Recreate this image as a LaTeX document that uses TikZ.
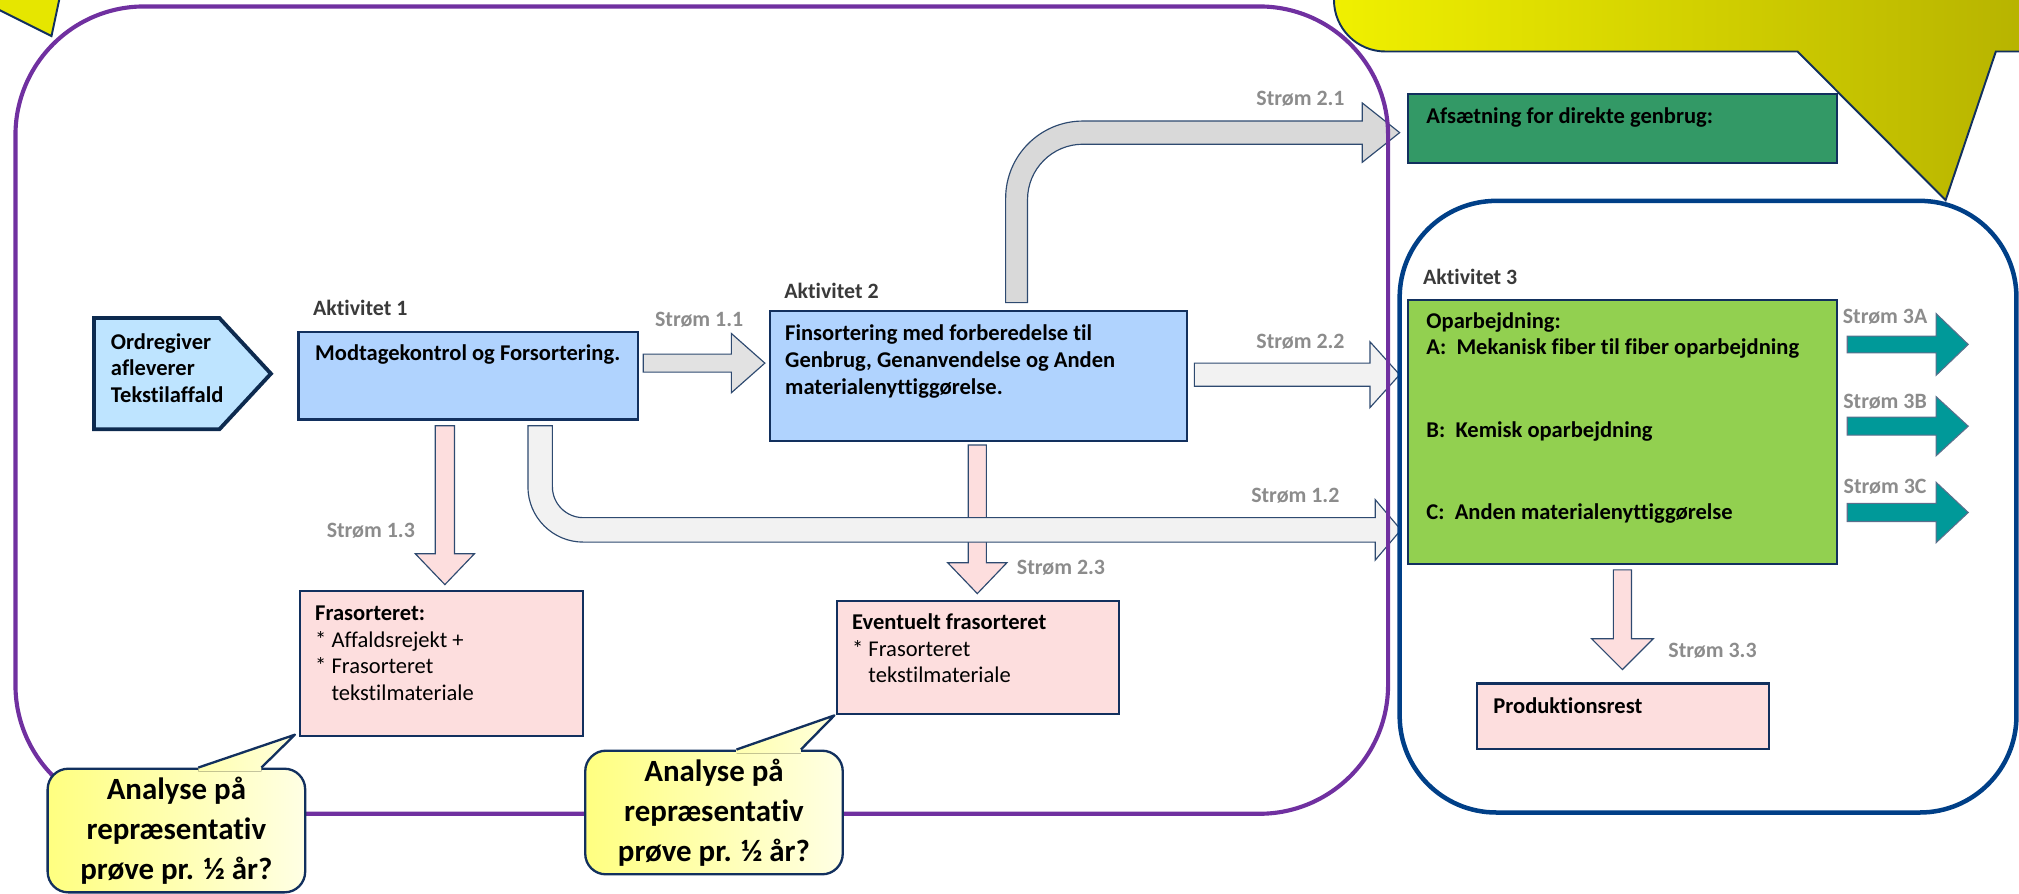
\documentclass[tikz,border=0pt]{standalone}
\usepackage{fontspec}
\setmainfont{Carlito}[Ligatures=NoCommon]
\usetikzlibrary{calc,backgrounds}
\definecolor{purp}{HTML}{7030A0}
\definecolor{navy}{HTML}{12305E}
\definecolor{frameblue}{HTML}{003F87}
\definecolor{boxblue}{HTML}{B0D3FE}
\definecolor{srcblue}{HTML}{BEE4FF}
\definecolor{srcline}{HTML}{0D2A4F}
\definecolor{pinkf}{HTML}{FDDEDE}
\definecolor{greyA}{HTML}{D9D9D9}
\definecolor{greyB}{HTML}{E2E2E2}
\definecolor{greyC}{HTML}{F2F2F2}
\definecolor{tealf}{HTML}{009999}
\definecolor{tealline}{HTML}{5B6F8C}
\definecolor{greenf}{HTML}{92D050}
\definecolor{seaf}{HTML}{339966}
\definecolor{lblgrey}{HTML}{8C8C8C}
\definecolor{actgrey}{HTML}{3A3A3A}
\definecolor{arrline}{HTML}{2E4A70}
\definecolor{cyL}{HTML}{FFFF80}
\definecolor{cyR}{HTML}{FFFFE4}
\definecolor{cyTa}{HTML}{FFFFB0}
\definecolor{cyTb}{HTML}{FFFFDC}
\definecolor{ybright}{HTML}{F0F000}
\definecolor{yolive}{HTML}{B2AE00}
\definecolor{yleft}{HTML}{E6E600}

\newcommand\boxfont{\fontsize{17.5}{20.8}\selectfont\bfseries}
\newcommand\lblfont{\fontsize{17}{20}\selectfont\bfseries}
\newcommand\callfont{\fontsize{24}{31}\selectfont\bfseries}
\newcommand\bx[5]{\parbox[b][#2][t]{#1}{\raggedright\leftskip=#3\relax\rule{0pt}{#4}#5}}
\newcommand\blockH[6]{\draw[#6] let \p1=(#1), \p2=(#2) in
  (\x1,\y2+#3) -- (\x2-#5,\y2+#3) -- (\x2-#5,\y2+#4) -- (\x2,\y2) --
  (\x2-#5,\y2-#4) -- (\x2-#5,\y2-#3) -- (\x1,\y2-#3) -- cycle;}
\newcommand\blockV[6]{\draw[#6] let \p1=(#1), \p2=(#2) in
  (\x2-#3,\y1) -- (\x2-#3,\y2+#5) -- (\x2-#4,\y2+#5) -- (\x2,\y2) --
  (\x2+#4,\y2+#5) -- (\x2+#3,\y2+#5) -- (\x2+#3,\y1) -- cycle;}

\begin{document}
\begin{tikzpicture}[x=1pt,y=-1pt,line join=miter,
  box/.style={draw=navy, line width=1.6pt, inner sep=0pt, anchor=north west, font=\boxfont},
  stream/.style={text=lblgrey, font=\lblfont, inner sep=0pt},
  act/.style={text=actgrey, font=\lblfont, anchor=west, inner sep=0pt},
  garrow/.style={draw=arrline, line width=0.9pt},
  parrow/.style={draw=arrline, line width=0.9pt, fill=pinkf},
  tarrow/.style={draw=tealline, line width=0.8pt, fill=tealf},
  callbox/.style={draw=navy, line width=1.8pt, rounded corners=16pt, left color=cyL, right color=cyR,
    minimum width=200pt, minimum height=96pt, align=center, font=\callfont, inner sep=0pt}]
\useasboundingbox (0,0) rectangle (1568,694);
\clip (0,0) rectangle (1568,694);

% source pentagon
\node[inner sep=0pt, anchor=north west, font=\boxfont] (src) at (73,247)
  {\bx{137pt}{86pt}{13pt}{24pt}{Ordregiver\\afleverer\\Tekstilaffald}};
\begin{scope}[on background layer]
\draw[draw=srcline, fill=srcblue, line width=3pt] (src.north west) -- ($(src.north east)+(-40,0)$)
  -- (src.east) -- ($(src.south east)+(-40,0)$) -- (src.south west) -- cycle;
\end{scope}

% boxes
\node[box, fill=boxblue] (a1) at (231,257) {\bx{264pt}{68pt}{13pt}{22pt}{Modtagekontrol og Forsortering.}};
\node[box, fill=boxblue] (a2) at (597,241) {\bx{324pt}{101pt}{12pt}{23pt}{Finsortering med forberedelse til\\Genbrug, Genanvendelse og Anden\\materialenyttiggørelse.}};
\node[box, fill=pinkf] (fr) at (232,458) {\bx{220pt}{113pt}{12pt}{23pt}{Frasorteret:\\\mdseries {*} Affaldsrejekt +\\{*} Frasorteret\\\hphantom{* }tekstilmateriale}};
\node[box, fill=pinkf] (ev) at (649,466) {\bx{219pt}{88pt}{12pt}{22pt}{Eventuelt frasorteret\\\mdseries {*} Frasorteret\\\hphantom{* }tekstilmateriale}};
\node[box, fill=seaf] (af) at (1093,72) {\bx{333pt}{54pt}{14pt}{23pt}{Afsætning for direkte genbrug:}};
\node[box, fill=greenf] (op) at (1093,232) {\bx{333pt}{205pt}{14pt}{22pt}{Oparbejdning:\\A:\ \ Mekanisk fiber til fiber oparbejdning\\[43pt]B:\ \ Kemisk oparbejdning\\[43pt]C:\ \ Anden materialenyttiggørelse}};
\node[box, fill=pinkf] (pr) at (1146,530) {\bx{227pt}{51pt}{13pt}{23pt}{Produktionsrest}};

% activity labels
\node[act] (l1) at (243,239) {Aktivitet 1};
\node[act] (l2) at (609,226) {Aktivitet 2};
\node[act] (l3) at (1105,215) {Aktivitet 3};

% connector end points
\coordinate (s11s) at ($(a1.east |- 0,282)+(3,0)$);
\coordinate (s11t) at ($(a2.west |- 0,282)+(-3,0)$);
\coordinate (s22s) at ($(a2.east |- 0,291)+(5,0)$);
\coordinate (s22t) at ($(op.west |- 0,291)+(-6,0)$);
\coordinate (s13s) at ($(a1.south west)+(114.5,4)$);
\coordinate (s13t) at ($(s13s |- fr.north)+(0,-4)$);
\coordinate (s23s) at ($(a2.south west)+(162,2)$);
\coordinate (s23t) at ($(s23s |- ev.north)+(0,-5)$);
\coordinate (s33s) at ($(op.south west)+(167,4)$);
\coordinate (s33t) at ($(s33s |- pr.north)+(0,-10)$);
\coordinate (s3as) at ($(op.east |- 0,267.5)+(7,0)$);
\coordinate (s3at) at ($(op.east |- 0,267.5)+(101,0)$);
\coordinate (s3bs) at ($(op.east |- 0,331)+(7,0)$);
\coordinate (s3bt) at ($(op.east |- 0,331)+(101,0)$);
\coordinate (s3cs) at ($(op.east |- 0,398)+(7,0)$);
\coordinate (s3ct) at ($(op.east |- 0,398)+(101,0)$);
\coordinate (b21s) at ($(a2.north west)+(184,-6)$);
\coordinate (b21t) at ($(af.west |- 0,103)+(-6,0)$);
\coordinate (b12s) at ($(a1.south west)+(179,4)$);
\coordinate (b12t) at ($(op.west |- 0,411.5)+(-5,0)$);

% pink arrows
\blockV{s13s}{s13t}{7.5pt}{23pt}{24pt}{parrow}
\blockV{s23s}{s23t}{7pt}{23pt}{24pt}{parrow}
\blockV{s33s}{s33t}{7pt}{24pt}{24pt}{parrow}

% grey arrows
\blockH{s11s}{s11t}{7pt}{23pt}{26pt}{garrow, fill=greyB}
\blockH{s22s}{s22t}{9pt}{25.5pt}{23pt}{garrow, fill=greyC}
\draw[garrow, fill=greyA] let \p1=(b21s), \p2=(b21t) in
  (\x1,\y1) -- (\x1,\y2+9pt-60pt) arc[start angle=180,end angle=90,radius=60pt]
  -- (\x2-29pt,\y2+9pt) -- (\x2-29pt,\y2+23pt) -- (\x2,\y2) -- (\x2-29pt,\y2-23pt)
  -- (\x2-29pt,\y2-9pt) -- (\x1+60pt,\y2-9pt) arc[start angle=90,end angle=180,radius=43pt]
  -- (\x1+17pt,\y1) -- cycle;
\draw[garrow, fill=greyC] let \p1=(b12s), \p2=(b12t) in
  (\x1,\y1) -- (\x1,\y2-9.5pt+43pt) arc[start angle=180,end angle=270,radius=43pt]
  -- (\x2-20pt,\y2-9.5pt) -- (\x2-20pt,\y2-23.5pt) -- (\x2,\y2) -- (\x2-20pt,\y2+23.5pt)
  -- (\x2-20pt,\y2+9.5pt) -- (\x1+43pt,\y2+9.5pt) arc[start angle=270,end angle=180,radius=24pt]
  -- (\x1+19pt,\y1) -- cycle;

% teal arrows
\blockH{s3as}{s3at}{6.5pt}{24pt}{25pt}{tarrow}
\blockH{s3bs}{s3bt}{7pt}{23pt}{25pt}{tarrow}
\blockH{s3cs}{s3ct}{7pt}{23.5pt}{25pt}{tarrow}

% stream labels
\node[stream] (t11) at (543,248) {Strøm 1.1};
\node[stream] (t21) at (1010,77) {Strøm 2.1};
\node[stream] (t22) at (1010,265) {Strøm 2.2};
\node[stream] (t12) at (1006,385) {Strøm 1.2};
\node[stream] (t13) at (288,412) {Strøm 1.3};
\node[stream] (t23) at (824,441) {Strøm 2.3};
\node[stream] (t3a) at (1464,246) {Strøm 3A};
\node[stream] (t3b) at (1464,312) {Strøm 3B};
\node[stream] (t3c) at (1464,378) {Strøm 3C};
\node[stream] (t33) at (1330,505) {Strøm 3.3};

% frames
\draw[purp, line width=3.2pt, rounded corners=100pt] (12,5) rectangle (1078,632);
\draw[frameblue, line width=3.5pt, rounded corners=75pt] (1087,156) rectangle (1566,631);

% top callouts (cut by the page edge)
\shadedraw[left color=ybright, right color=yolive, draw=navy, line width=1.5pt]
  (1620,40) -- (1550,40) -- (1511,155.5) -- (1396,40) -- (1076,40)
  arc[start angle=270,end angle=180,radius=40pt] -- (1036,-20) -- (1620,-20) -- cycle;
\fill[yleft] (-5,-5) -- (-5,5.5) -- (40,28) -- (47,-5) -- cycle;
\draw[navy, line width=1.5pt] (-5,5.5) -- (40,28) -- (47,-5);

% bottom callouts
\node[callbox] (c1) at (137,645) {Analyse på\\repræsentativ\\prøve pr. ½ år?};
\node[callbox] (c2) at (554.5,631) {Analyse på\\repræsentativ\\prøve pr. ½ år?};
\fill[left color=cyTa, right color=cyTb] ($(c1.north)+(17,0)$) -- ($(fr.south west)+(-3,-2)$)
  -- ($(c1.north)+(66,0)$) -- ($(c1.north)+(66,3)$) -- ($(c1.north)+(17,3)$) -- cycle;
\draw[navy, line width=1.8pt, line join=round] ($(c1.north)+(17,0)$) -- ($(fr.south west)+(-3,-2)$) -- ($(c1.north)+(66,0)$);
\fill[left color=cyTa, right color=cyTb] ($(c2.north)+(17.5,0)$) -- ($(ev.south west)+(-1,0)$)
  -- ($(c2.north)+(67.5,0)$) -- ($(c2.north)+(67.5,3)$) -- ($(c2.north)+(17.5,3)$) -- cycle;
\draw[navy, line width=1.8pt, line join=round] ($(c2.north)+(17.5,0)$) -- ($(ev.south west)+(-1,0)$) -- ($(c2.north)+(67.5,0)$);
\end{tikzpicture}
\end{document}
